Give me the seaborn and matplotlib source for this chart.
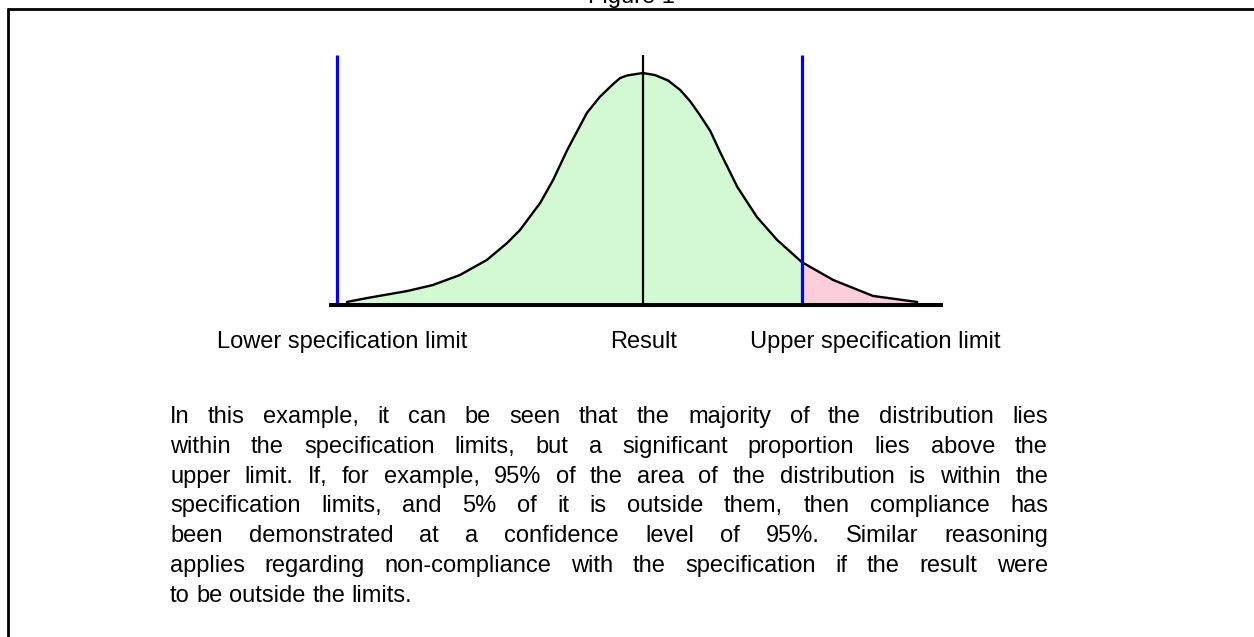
import numpy as np
import pandas as pd
import matplotlib
matplotlib.use("Agg")
import matplotlib.pyplot as plt
from matplotlib.lines import Line2D
import seaborn as sns

# ---------------- data ----------------
curve_x = [2.9, 6.2, 12.7, 16.9, 21.3, 25.7, 29.0, 31.1, 34.4, 36.5, 38.8, 42.0,
           44.1, 46.3, 47.4, 48.5, 51.1, 53.1, 55.2, 57.2, 58.8, 60.4, 62.1,
           63.7, 66.5, 69.7, 73.0, 77.0, 82.1, 88.6, 95.8]
curve_y = [0.013, 0.030, 0.060, 0.086, 0.129, 0.194, 0.267, 0.323, 0.440, 0.539,
           0.668, 0.828, 0.897, 0.953, 0.978, 0.989, 1.000, 0.991, 0.968, 0.927,
           0.879, 0.819, 0.750, 0.659, 0.509, 0.379, 0.280, 0.185, 0.108, 0.039,
           0.013]
lower_limit = 1.3
result_value = 51.1
upper_limit = 77.0
axis_start, axis_end = 0.0, 100.0
limit_line_top = 1.078

title_text = "Figure 1"
label_lower = "Lower specification limit"
label_result = "Result"
label_upper = "Upper specification limit"
paragraph_lines = [
    "In this example, it can be seen that the majority of the distribution lies",
    "within the specification limits, but a significant proportion lies above the",
    "upper limit. If, for example, 95% of the area of the distribution is within the",
    "specification limits, and 5% of it is outside them, then compliance has",
    "been demonstrated at a confidence level of 95%. Similar reasoning",
    "applies regarding non-compliance with the specification if the result were",
    "to be outside the limits.",
]

# ---------------- style ----------------
sns.set_theme(style="white")
plt.rcParams["font.family"] = ["Liberation Sans", "DejaVu Sans"]
plt.rcParams["text.color"] = "black"

W, H = 1254, 637
fig = plt.figure(figsize=(W / 100, H / 100), dpi=100)
fig.patch.set_facecolor("white")

def fx(px):
    return px / W

def fy(py):
    return 1 - py / H

GREEN = "#d2f9d2"
PINK = "#fbcdd9"
BLUE = "#0000ff"
FS = 17

# axes: data x 0..100 -> px 329..943 ; y 0..1 -> px 305..73
y_top = 1.08
ax_left, ax_right = 329, 943
ax_bottom = 305
px_per_unit_y = 232
ax_top = ax_bottom - y_top * px_per_unit_y
ax = fig.add_axes([fx(ax_left), fy(ax_bottom), fx(ax_right - ax_left), (ax_bottom - ax_top) / H])

df = pd.DataFrame({"x": curve_x, "y": curve_y})
inside = df[df["x"] <= upper_limit]
outside = df[df["x"] >= upper_limit]
ax.fill_between(inside["x"], 0, inside["y"], color=GREEN, lw=0, zorder=1)
ax.fill_between(outside["x"], 0, outside["y"], color=PINK, lw=0, zorder=1)
sns.lineplot(data=df, x="x", y="y", color="black", lw=1.7, sort=False,
             estimator=None, ax=ax, zorder=3, solid_joinstyle="round")
ax.vlines([lower_limit, upper_limit], 0, limit_line_top, colors=BLUE, lw=2.3,
          zorder=4, clip_on=False)
ax.vlines([result_value], 0, limit_line_top, colors="black", lw=1.6,
          zorder=4, clip_on=False)
ax.hlines([0], axis_start, axis_end, colors="black", lw=2.9, zorder=5, clip_on=False)
ax.set_xlim(axis_start, axis_end)
ax.set_ylim(0, y_top)
ax.axis("off")

# ---------------- frame ----------------
bx0, by0 = 8, 8.8
fig.add_artist(Line2D([fx(bx0), fx(bx0)], [fy(by0), fy(H + 10)], color="black", lw=2.0))
fig.add_artist(Line2D([fx(bx0), fx(W + 10)], [fy(by0), fy(by0)], color="black", lw=2.0))

# ---------------- texts ----------------
fig.text(fx(588), fy(3.5), title_text, fontsize=FS, va="baseline", ha="left")
fig.text(fx(217), fy(348), label_lower, fontsize=FS, va="baseline", ha="left")
fig.text(fx(610), fy(348), label_result, fontsize=FS, va="baseline", ha="left")
fig.text(fx(750), fy(348), label_upper, fontsize=FS, va="baseline", ha="left")

renderer = fig.canvas.get_renderer()
p_x0, p_x1 = 170, 1048
p_y0, p_dy = 423, 29.8
sp = fig.text(0, 0, "a a", fontsize=FS)
sp2 = fig.text(0, 0, "aa", fontsize=FS)
space_w = sp.get_window_extent(renderer).width - sp2.get_window_extent(renderer).width
sp.remove(); sp2.remove()

for i, line in enumerate(paragraph_lines):
    words = line.split(" ")
    y = p_y0 + i * p_dy
    texts = [fig.text(0, fy(y), w, fontsize=FS, va="baseline", ha="left") for w in words]
    widths = [t.get_window_extent(renderer).width for t in texts]
    last = i == len(paragraph_lines) - 1
    if not last and len(words) > 1:
        gap = (p_x1 - p_x0 - sum(widths)) / (len(words) - 1)
    else:
        gap = space_w
    x = p_x0
    for t, w in zip(texts, widths):
        t.set_x(fx(x))
        x += w + gap

fig.savefig("out.png", dpi=100, facecolor="white")
